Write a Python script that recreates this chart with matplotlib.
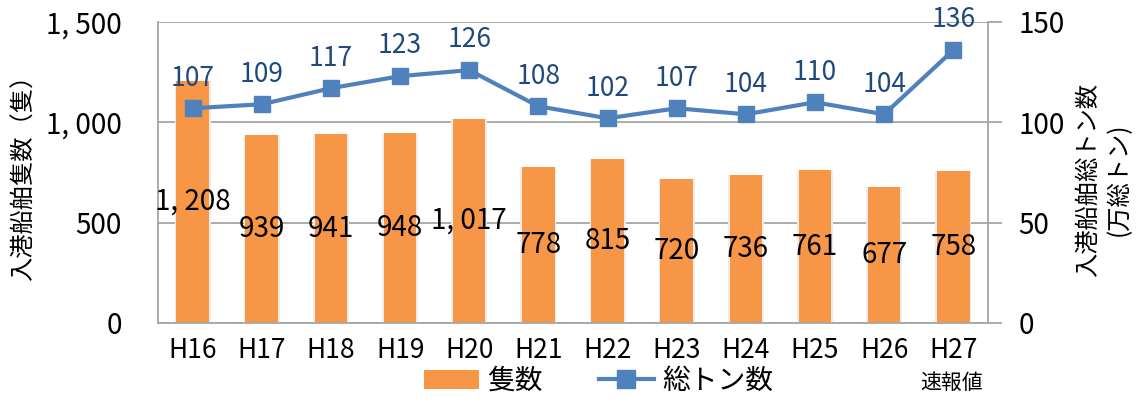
import matplotlib
matplotlib.use("Agg")
import matplotlib.pyplot as plt
from matplotlib.lines import Line2D
from matplotlib.patches import Patch
import numpy as np

plt.rcParams['font.family'] = ['Noto Sans CJK JP', 'DejaVu Sans']

years = ["H16", "H17", "H18", "H19", "H20", "H21", "H22", "H23", "H24", "H25", "H26", "H27"]
ships = [1208, 939, 941, 948, 1017, 778, 815, 720, 736, 761, 677, 758]
tonnage = [107, 109, 117, 123, 126, 108, 102, 107, 104, 110, 104, 136]
left_ticks = [0, 500, 1000, 1500]
right_ticks = [0, 50, 100, 150]

BAR = "#F79646"
LINE = "#4F81BD"
LBL = "#1F497D"
GRID = "#A6A6A6"


def jp_comma(v):
    return f"{v:,}".replace(",", ", ")


fig = plt.figure(figsize=(11.4, 3.99), dpi=100)
ax = fig.add_axes([0.1386, 0.1905, 0.728, 0.7544])
x = np.arange(len(years))

ax.set_xlim(-0.5, len(years) - 0.5)
ax.set_ylim(0, 1500)
ax.set_yticks(left_ticks)
ax.set_yticklabels([jp_comma(v) for v in left_ticks], fontsize=20)
ax.tick_params(axis='y', length=0, pad=26)
ax.set_xticks(x)
ax.set_xticklabels(years, fontsize=19)
ax.tick_params(axis='x', length=0, pad=10)
ax.grid(axis='y', color=GRID, linewidth=1.3)
ax.set_axisbelow(True)
for side in ['left', 'right', 'top', 'bottom']:
    ax.spines[side].set_color(GRID)
    ax.spines[side].set_linewidth(1.3)
ax.spines['top'].set_visible(False)

# soft glow around each bar
ax.bar(x, ships, width=0.52, color="#EDEDED", zorder=1)
ax.bar(x, ships, width=0.47, color=BAR, zorder=2)
for xi, v in zip(x, ships):
    ax.text(xi, v / 2, jp_comma(v), ha='center', va='center', fontsize=20,
            color='black', zorder=5)

ax2 = ax.twinx()
ax2.set_ylim(0, 150)
ax2.set_yticks(right_ticks)
ax2.set_yticklabels([str(v) for v in right_ticks], fontsize=20)
ax2.tick_params(axis='y', length=10, width=1.3, color=GRID, pad=12)
for side in ['left', 'right', 'top', 'bottom']:
    ax2.spines[side].set_visible(False)

ax2.plot(x, tonnage, color=LINE, linewidth=3, marker='s', markersize=12,
         markeredgecolor=LINE, zorder=4)
for xi, v in zip(x, tonnage):
    ax2.annotate(str(v), (xi, v), xytext=(0, 12), textcoords='offset points',
                 ha='center', va='bottom', fontsize=19, color=LBL)

# axis titles
fig.text(0.021, 0.57, "入港船舶隻数（隻）", rotation=90, ha='center', va='center',
         fontsize=17.5)
fig.text(0.954, 0.55, "入港船舶総トン数", rotation=90, ha='center', va='center',
         fontsize=17.5)
fig.text(0.981, 0.55, "(万総トン)", rotation=90, ha='center', va='center',
         fontsize=17.5)

fig.text(0.835, 0.04, "速報値", ha='center', va='center', fontsize=15)

handles = [Patch(facecolor=BAR, edgecolor='none'),
           Line2D([0], [0], color=LINE, linewidth=3, marker='s', markersize=13)]
fig.legend(handles, ["隻数", "総トン数"], loc='center', bbox_to_anchor=(0.525, 0.045),
           ncol=2, frameon=False, prop={'size': 20},
           handlelength=2.0, handletextpad=0.3, columnspacing=2.0)

fig.savefig("out.png", dpi=100)
